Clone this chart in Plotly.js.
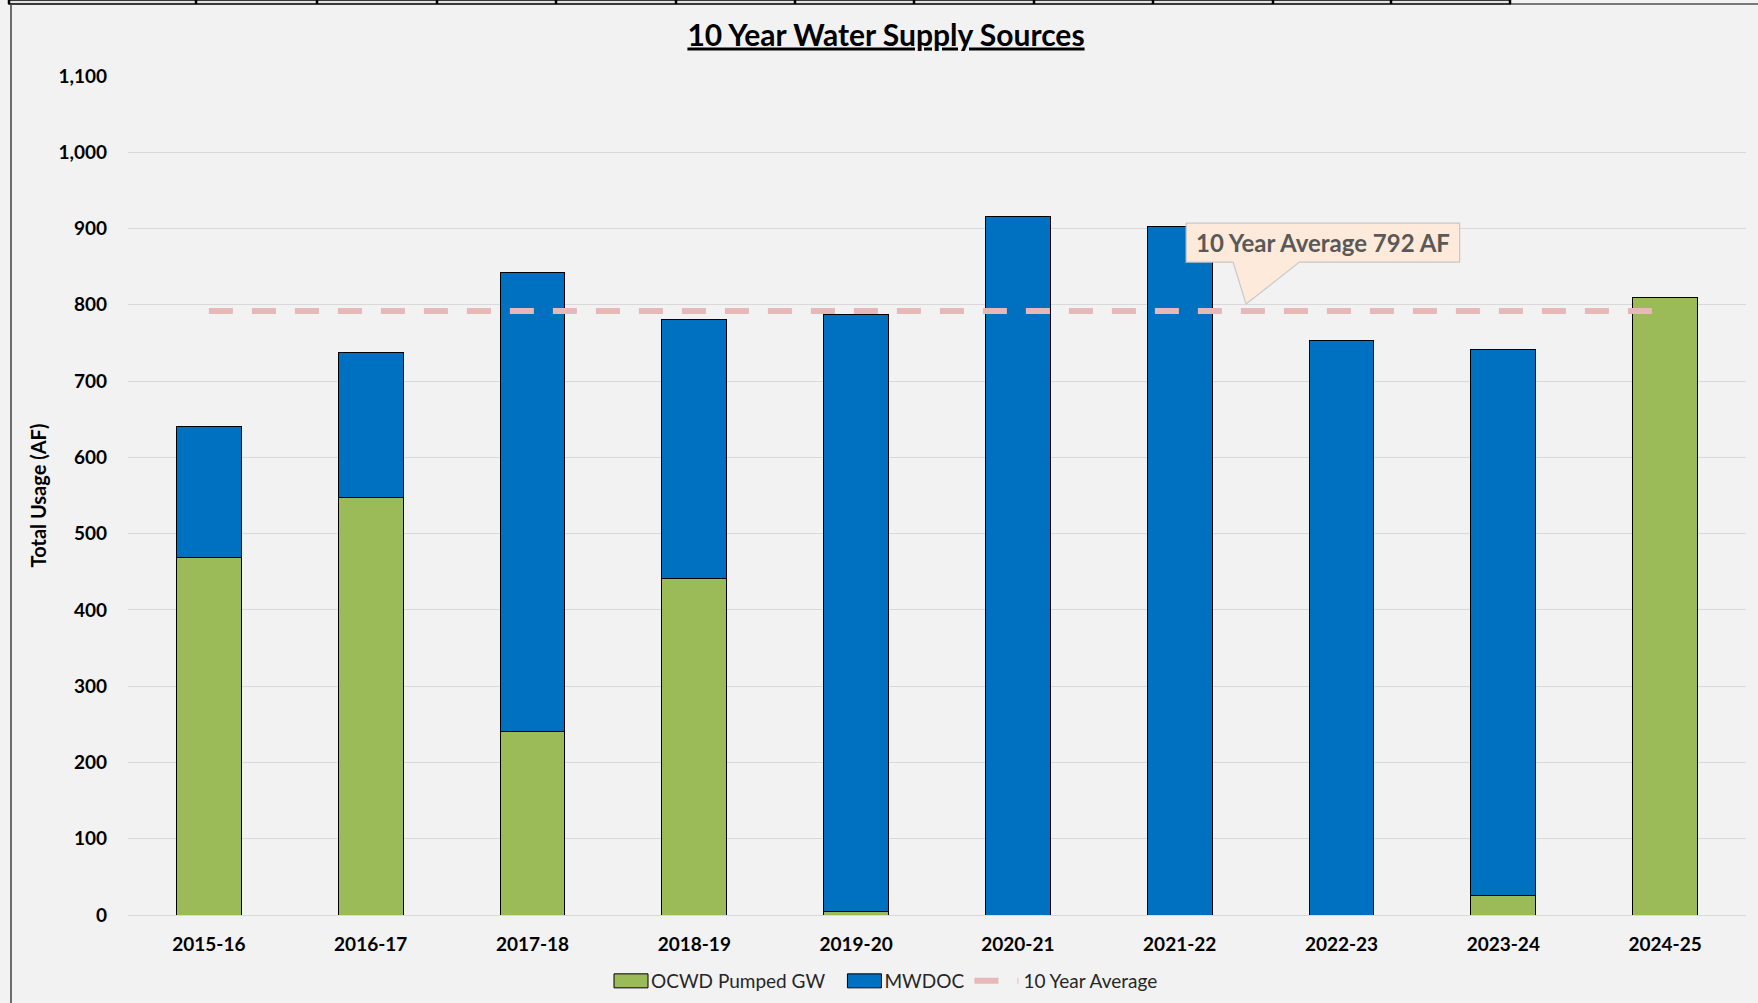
<!DOCTYPE html>
<html>
<head>
<meta charset="utf-8">
<script src="https://cdn.plot.ly/plotly-3.0.1.min.js"></script>
<style>html,body{margin:0;padding:0;background:#F2F2F2;}#chart{width:1758px;height:1003px;}</style>
</head>
<body>
<div id="chart"></div>
<script>
// ---- data ----
const categories = ['2015-16','2016-17','2017-18','2018-19','2019-20','2020-21','2021-22','2022-23','2023-24','2024-25'];
const ocwdPumpedGW = [469, 547, 240, 441, 5, 0, 0, 0, 26, 810];
const mwdoc        = [172, 190, 603, 340, 782, 916, 903, 753, 715, 0];
const tenYearAverage = [792, 792, 792, 792, 792, 792, 792, 792, 792, 792];
const averageLabel = '10 Year Average 792 AF';
const yTickValues = [0,100,200,300,400,500,600,700,800,900,1000,1100];

// ---- layout geometry (pixels) ----
const W = 1758, H = 1003;
const M = {l:128, r:12, t:76, b:88};
const PW = W - M.l - M.r, PH = H - M.t - M.b;
const px = x => (x - M.l) / PW;
const py = y => (H - M.b - y) / PH;

const FONT = 'Lato, "Open Sans", sans-serif';

const traces = [
  {type:'bar', name:'OCWD Pumped GW', x:categories, y:ocwdPumpedGW,
   marker:{color:'#9BBB59', line:{color:'#000000', width:1}}, hoverinfo:'x+y'},
  {type:'bar', name:'MWDOC', x:categories, y:mwdoc,
   marker:{color:'#0070C0', line:{color:'#000000', width:1}}, hoverinfo:'x+y'},
  {type:'scatter', mode:'lines', name:'10 Year Average', x:categories, y:tenYearAverage,
   line:{color:'#E6B9B8', width:6, dash:'24px,19px'}}
];

// decorative spreadsheet border strip at top and left edge
const dividers = [9, 196, 317, 437, 556, 676, 795, 914, 1034, 1153, 1273, 1391, 1510];
const shapes = [];
shapes.push({type:'rect', xref:'paper', yref:'paper', x0:px(9), x1:px(1510), y0:py(0), y1:py(4),
  fillcolor:'#E3E3E3', line:{color:'#000', width:1.5}, layer:'above'});
dividers.forEach(d => shapes.push({type:'line', xref:'paper', yref:'paper', x0:px(d), x1:px(d), y0:py(0), y1:py(4),
  line:{color:'#000', width:2.5}}));
shapes.push({type:'line', xref:'paper', yref:'paper', x0:px(1510), x1:px(1758), y0:py(4), y1:py(4), line:{color:'#000', width:1}});
shapes.push({type:'line', xref:'paper', yref:'paper', x0:px(11), x1:px(11), y0:py(4), y1:py(1003), line:{color:'#404040', width:1.5}});

// callout box for the average label
const bx0 = 0.654, bx1 = 0.823, by0 = 856, by1 = 907;
const wl = 0.683, wr = 0.724, wt = 0.691, tipY = 801;
shapes.push({type:'path', xref:'paper', yref:'y',
  path:`M${bx0},${by1} L${bx1},${by1} L${bx1},${by0} L${wr},${by0} L${wt},${tipY} L${wl},${by0} L${bx0},${by0} Z`,
  fillcolor:'#FDEADA', line:{color:'#C8C8C8', width:1.2}, layer:'above'});

const layout = {
  width:W, height:H,
  margin:M,
  paper_bgcolor:'#F2F2F2', plot_bgcolor:'#F2F2F2',
  font:{family:FONT, color:'#000'},
  barmode:'stack', bargap:0.6,
  title:{text:'<b><u>10 Year Water Supply Sources</u></b>', font:{family:FONT, size:30, color:'#000'},
    xref:'container', yref:'container', x:886/W, xanchor:'center', y:1-35/H, yanchor:'middle'},
  xaxis:{type:'category', range:[-0.5, 9.5], showgrid:false, zeroline:false, automargin:false,
    showline:true, linecolor:'#D9D9D9', linewidth:1, ticks:'',
    tickfont:{family:FONT, size:19, color:'#000', weight:'bold'}, ticklabelstandoff:12, fixedrange:true},
  yaxis:{range:[0,1100], tickvals:yTickValues, tickformat:',d', showgrid:true, gridcolor:'#D9D9D9', gridwidth:1,
    zeroline:false, showline:false, ticks:'', automargin:false,
    tickfont:{family:FONT, size:19, color:'#000', weight:'bold'}, ticklabelstandoff:20,
    title:{text:'<b>Total Usage (AF)</b>', font:{family:FONT, size:20, color:'#000'}, standoff:6},
    fixedrange:true},
  legend:{orientation:'h', xref:'container', yref:'container', x:880/W, xanchor:'center', y:1-981/H, yanchor:'middle',
    font:{family:FONT, size:19, color:'#262626'}, bgcolor:'rgba(0,0,0,0)', itemwidth:44, traceorder:'normal'},
  shapes:shapes,
  annotations:[{xref:'paper', yref:'y', x:(bx0+bx1)/2, y:(by0+by1)/2, text:'<b>'+averageLabel+'</b>',
    showarrow:false, font:{family:FONT, size:24, color:'#595959'}, xanchor:'center', yanchor:'middle'}],
  showlegend:true
};

Plotly.newPlot('chart', traces, layout, {displayModeBar:false, staticPlot:true}).then(gd => {
  // widen the bar legend swatches to the wide rectangles of the reference
  gd.querySelectorAll('.legend .traces').forEach((g, i) => {
    if (i < 2) {
      g.querySelectorAll('.legendpoints path').forEach(p => p.setAttribute('d', 'M24,7H-10V-7H24Z'));
    }
  });
});
</script>
</body>
</html>
